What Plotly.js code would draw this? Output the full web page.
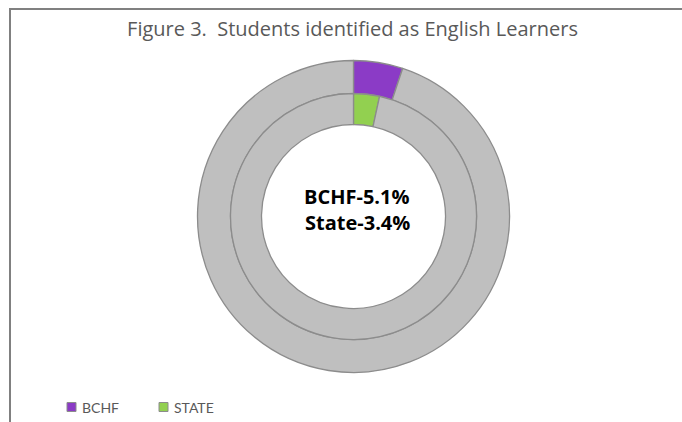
<!DOCTYPE html>
<html>
<head>
<meta charset="utf-8">
<script src="https://cdn.plot.ly/plotly-3.0.1.min.js"></script>
<style>html,body{margin:0;padding:0;background:#fff;}#chart{width:682px;height:422px;}</style>
</head>
<body>
<div id="chart"></div>
<script>
const categories = ['BCHF', 'STATE'];
const shares = [5.1, 3.4];
const restLabel = 'Other';
const centerLines = ['BCHF-5.1%', 'State-3.4%'];
const titleText = 'Figure 3.  Students identified as English Learners';

const colors = ['#8B3BC6', '#92D050'];
const grey = '#BFBFBF';
const edge = '#8C8C8C';

const W = 682, H = 422;
const cx = 353.5, cy = 216.5, rOuter = 156, rMid = 123, rHole = 92;
function dom(r) {
  return { x: [(cx - r) / W, (cx + r) / W], y: [1 - (cy + r) / H, 1 - (cy - r) / H] };
}

const traces = [
  {
    type: 'pie', labels: [categories[0], restLabel + ' ' + categories[0]],
    values: [shares[0], 100 - shares[0]], sort: false, direction: 'clockwise', rotation: 0,
    hole: rMid / rOuter, domain: dom(rOuter), textinfo: 'none', hoverinfo: 'none',
    marker: { colors: [colors[0], grey], line: { color: edge, width: 1.3 } }, showlegend: false
  },
  {
    type: 'pie', labels: [categories[1], restLabel + ' ' + categories[1]],
    values: [shares[1], 100 - shares[1]], sort: false, direction: 'clockwise', rotation: 0,
    hole: rHole / rMid, domain: dom(rMid), textinfo: 'none', hoverinfo: 'none',
    marker: { colors: [colors[1], grey], line: { color: edge, width: 1.3 } }, showlegend: false
  }
];

// legend drawn as small squares + labels
const legendX = [67, 159];   // left edge of each legend square (px)
const legendY = 407;
const shapes = [
  { type: 'line', xref: 'paper', yref: 'paper', x0: 9 / W, x1: 1, y0: 1 - 9 / H, y1: 1 - 9 / H,
    line: { color: '#808080', width: 2 } },
  { type: 'line', xref: 'paper', yref: 'paper', x0: 10 / W, x1: 10 / W, y0: 0, y1: 1 - 9 / H,
    line: { color: '#808080', width: 2 } }
];
const annotations = [];
categories.forEach((c, i) => {
  shapes.push({ type: 'rect', xref: 'paper', yref: 'paper',
    x0: legendX[i] / W, x1: (legendX[i] + 9) / W, y0: 1 - (legendY + 4.5) / H, y1: 1 - (legendY - 4.5) / H,
    fillcolor: colors[i], line: { color: '#8c8c8c', width: 1 } });
  annotations.push({ text: c, xref: 'paper', yref: 'paper', x: (legendX[i] + 13) / W, y: 1 - legendY / H,
    xanchor: 'left', yanchor: 'middle', showarrow: false,
    font: { family: 'Lato, sans-serif', size: 14, color: '#595959' } });
});
const lineY = [196, 222];
centerLines.forEach((t, i) => annotations.push({
  text: '<b>' + t + '</b>', xref: 'paper', yref: 'paper', x: 357 / W, y: 1 - lineY[i] / H,
  xanchor: 'center', yanchor: 'middle', showarrow: false,
  font: { family: 'Open Sans, sans-serif', size: 20, color: '#000' }
}));

const layout = {
  width: W, height: H,
  margin: { l: 0, r: 0, t: 0, b: 0 },
  paper_bgcolor: '#fff', plot_bgcolor: '#fff',
  title: { text: titleText, x: 352.5 / W, xanchor: 'center', y: 1 - 29 / H, yanchor: 'middle', yref: 'paper',
    font: { family: 'Open Sans, sans-serif', size: 20, color: '#595959' } },
  showlegend: false,
  annotations: annotations,
  shapes: shapes
};
Plotly.newPlot('chart', traces, layout, { displayModeBar: false, staticPlot: true });
</script>
</body>
</html>
